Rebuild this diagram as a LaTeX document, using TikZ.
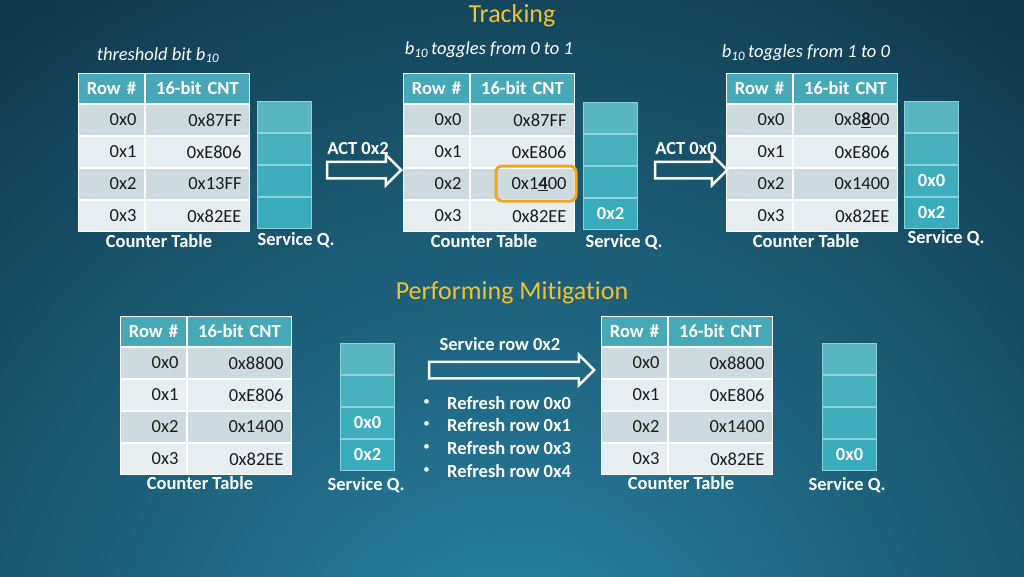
\documentclass[tikz,border=0pt]{standalone}
\usepackage{fontspec}
\setmainfont{Carlito}[Ligatures=NoCommon]
\usetikzlibrary{shapes.arrows}
\definecolor{bgin}{HTML}{2A86A8}
\definecolor{bgout}{HTML}{0E3548}
\definecolor{hdr}{HTML}{47A9B8}
\definecolor{rowA}{HTML}{CDDBE1}
\definecolor{rowB}{HTML}{E7EEF1}
\definecolor{gold}{HTML}{F2C12E}
\definecolor{hiorange}{HTML}{F4A51C}
\definecolor{txtdark}{HTML}{1C1C1C}
\definecolor{qline}{HTML}{8CD2DA}
\definecolor{qA}{HTML}{58B6C2}
\definecolor{qB}{HTML}{47B1C0}
\definecolor{qC}{HTML}{3EAEBF}
\definecolor{qD}{HTML}{38ABBD}
\tikzset{
  fnt/.style={font=\fontsize{18.5}{22}\selectfont},
  cell/.style={rectangle, draw=white, line width=1pt, minimum height=31pt,
    inner xsep=8pt, inner ysep=0pt, anchor=north west, fnt, text=txtdark},
  cA/.style={cell, text width=50pt, align=right},
  cB/.style={cell, text width=88pt, align=right},
  hA/.style={cA, fill=hdr, align=center, minimum height=30pt, text=white, font=\fontsize{18.5}{22}\selectfont\bfseries},
  hB/.style={cB, fill=hdr, align=center, minimum height=30pt, text=white, font=\fontsize{18.5}{22}\selectfont\bfseries},
  qcell/.style={rectangle, draw=qline, line width=1.2pt, minimum width=54pt,
    minimum height=30.75pt, anchor=north west, inner sep=0pt, text=white,
    font=\fontsize{18.5}{22}\selectfont\bfseries},
  lbl/.style={inner sep=0pt, text=white, font=\fontsize{18.5}{22}\selectfont\bfseries},
  bul/.style={inner sep=0pt, text=white, font=\fontsize{13}{15}\selectfont},
  ital/.style={inner sep=0pt, text=white, font=\fontsize{18.5}{22}\selectfont\itshape},
  ttl/.style={inner sep=0pt, text=gold, font=\fontsize{26}{30}\selectfont},
  blockarrow/.style={single arrow, draw=white, line width=2.5pt, inner xsep=0pt,
    inner ysep=7pt, single arrow head extend=7pt, single arrow tip angle=90},
  hilite/.style={draw=hiorange, line width=3pt, rounded corners=6pt},
}
\newcommand\ctable[7]{%
  \node[hA] (#1h1) at (#2,#3) {Row \#};
  \node[hB] (#1h2) at (#1h1.north east) {16-bit CNT};
  \node[cA, fill=rowA] (#1a0) at (#1h1.south west) {0x0};
  \node[cB, fill=rowA] (#1b0) at (#1a0.north east) {#4};
  \node[cA, fill=rowB] (#1a1) at (#1a0.south west) {0x1};
  \node[cB, fill=rowB] (#1b1) at (#1a1.north east) {#5};
  \node[cA, fill=rowA] (#1a2) at (#1a1.south west) {0x2};
  \node[cB, fill=rowA] (#1b2) at (#1a2.north east) {#6};
  \node[cA, fill=rowB] (#1a3) at (#1a2.south west) {0x3};
  \node[cB, fill=rowB] (#1b3) at (#1a3.north east) {#7};
  \draw[white, line width=2.5pt] (#1h1.south west) -- (#1h2.south east);
}
\newcommand\squeue[7]{%
  \node[qcell, fill=qA] (#1c0) at (#2,#3) {#4};
  \node[qcell, fill=qB] (#1c1) at (#1c0.south west) {#5};
  \node[qcell, fill=qC] (#1c2) at (#1c1.south west) {#6};
  \node[qcell, fill=qD] (#1c3) at (#1c2.south west) {#7};
}
\begin{document}
\begin{tikzpicture}[x=1pt, y=-1pt]
\useasboundingbox (0,0) rectangle (1024,576);
\begin{scope}
  \clip (0,0) rectangle (1024,576);
  \shade[inner color=bgin, outer color=bgout] (512,700) circle (900pt);
\end{scope}

% titles
\node[ttl] (tracking) at (512,16) {Tracking};
\node[ttl] (mitig) at (512,293) {Performing Mitigation};

\node[ital] (cap1) at (158,55) {threshold bit b\textsubscript{10}};
\node[ital] (cap2) at (489,50) {b\textsubscript{10}\,toggles from 0 to 1};
\node[ital] (cap3) at (806,53) {b\textsubscript{10}\,toggles from 1 to 0};

% tables
\ctable{ta}{78}{73}{0x87FF}{0xE806}{0x13FF}{0x82EE}
\ctable{tb}{403}{73}{0x87FF}{0xE806}{0x1\underline{\textbf{4}}00}{0x82EE}
\ctable{tc}{726}{73}{0x8\underline{\textbf{8}}00}{0xE806}{0x1400}{0x82EE}
\ctable{td}{120}{316}{0x8800}{0xE806}{0x1400}{0x82EE}
\ctable{te}{601}{316}{0x8800}{0xE806}{0x1400}{0x82EE}

\draw[hilite] ([xshift=26pt,yshift=2pt]tbb2.north west) rectangle ([xshift=1pt,yshift=-1pt]tbb2.south east);

% queues
\squeue{qa}{257}{101}{}{}{}{}
\squeue{qb}{583}{102}{}{}{}{0x2}
\squeue{qc}{904}{101}{}{}{0x0}{0x2}
\squeue{qd}{340}{343}{}{}{0x0}{0x2}
\squeue{qe}{822}{343}{}{}{}{0x0}

% labels
\node[lbl] (la1) at (159,241) {Counter Table};
\node[lbl] (la2) at (484,241) {Counter Table};
\node[lbl] (la3) at (806,241) {Counter Table};
\node[lbl] (la4) at (200,483) {Counter Table};
\node[lbl] (la5) at (681,483) {Counter Table};
\node[lbl] (lq1) at (296,240) {Service Q.};
\node[lbl] (lq2) at (624,242) {Service Q.};
\node[lbl] (lq3) at (946,238) {Service Q.};
\node[lbl] (lq4) at (366,485) {Service Q.};
\node[lbl] (lq5) at (847,485) {Service Q.};

% arrows
\node[blockarrow, minimum height=74pt] (arr1) at (360,170) {};
\node[blockarrow, minimum height=72pt] (arr2) at (687,170) {};
\node[blockarrow, minimum height=165pt] (arr3) at (507.5,370) {};
\node[lbl] (act1) at (358,148) {ACT 0x2};
\node[lbl] (act2) at (686,148) {ACT 0x0};
\node[lbl] (srv) at (500,344) {Service row 0x2};

% bullets
\foreach \i/\yy/\r in {1/403/0x0, 2/425/0x1, 3/448/0x3, 4/471/0x4} {
  \node[bul] (bu\i) at (426.5,\yy) {\textbullet};
  \node[lbl, anchor=west] (rf\i) at (447,\yy) {Refresh row \r};
}
\end{tikzpicture}
\end{document}
